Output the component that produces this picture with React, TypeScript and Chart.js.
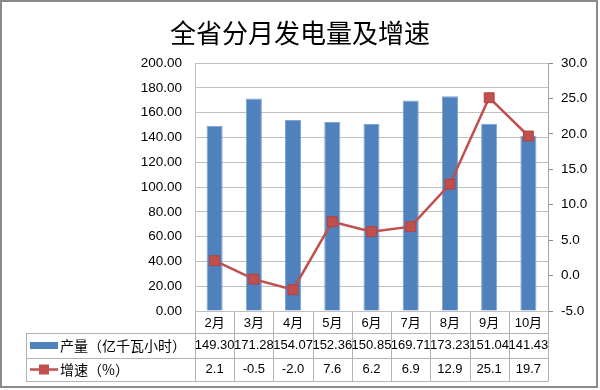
import React, { useEffect, useRef } from "react";
import { Chart, registerables } from "chart.js";

Chart.register(...registerables);

const chartTitle = "全省分月发电量及增速";
const months = ["2月", "3月", "4月", "5月", "6月", "7月", "8月", "9月", "10月"];
const outputValues = [149.3, 171.28, 154.07, 152.36, 150.85, 169.71, 173.23, 151.04, 141.43];
const growthValues = [2.1, -0.5, -2.0, 7.6, 6.2, 6.9, 12.9, 25.1, 19.7];
const outputName = "产量（亿千瓦小时）";
const growthName = "增速（%）";
const leftAxis = { min: 0, max: 200, step: 20 };
const rightAxis = { min: -5, max: 30, step: 5 };

const BLUE = "#4f81bd";
const RED = "#c0504d";
const NUM_FONT = "'Liberation Sans', 'Noto Sans CJK SC', sans-serif";
const CJK_FONT = "'Noto Sans CJK SC', 'Liberation Sans', sans-serif";

const decorPlugin = {
  id: "decor",
  afterDraw(chart: any) {
    const ctx: CanvasRenderingContext2D = chart.ctx;
    const xs = chart.scales.x;
    const { left, right, bottom } = chart.chartArea;
    const n = months.length;
    const cw = (right - left) / n;
    const rows = [bottom, bottom + 22, bottom + 47, bottom + 70];
    const tableLeft = 26;
    ctx.save();

    // title
    ctx.fillStyle = "#000";
    ctx.font = `26px ${CJK_FONT}`;
    ctx.textAlign = "center";
    ctx.textBaseline = "middle";
    ctx.fillText(chartTitle, 300, 33);

    // table grid
    ctx.strokeStyle = "#b3b3b3";
    ctx.lineWidth = 1;
    ctx.beginPath();
    for (let r = 1; r < rows.length; r++) {
      const y = Math.round(rows[r]) + 0.5;
      ctx.moveTo(tableLeft, y);
      ctx.lineTo(right + 0.5, y);
    }
    for (let i = 0; i <= n; i++) {
      const x = Math.round(left + i * cw) + 0.5;
      ctx.moveTo(x, bottom);
      ctx.lineTo(x, Math.round(rows[3]) + 0.5);
    }
    ctx.moveTo(tableLeft + 0.5, Math.round(rows[1]) + 0.5);
    ctx.lineTo(tableLeft + 0.5, Math.round(rows[3]) + 0.5);
    ctx.stroke();

    // table texts
    ctx.fillStyle = "#000";
    ctx.textAlign = "center";
    ctx.textBaseline = "middle";
    ctx.font = `13px ${NUM_FONT}`;
    const m0 = (rows[0] + rows[1]) / 2 + 1;
    const m1 = (rows[1] + rows[2]) / 2;
    const m2 = (rows[2] + rows[3]) / 2;
    for (let i = 0; i < n; i++) {
      const cx = xs.getPixelForValue(i);
      ctx.fillText(months[i], cx, m0);
      ctx.fillText(outputValues[i].toFixed(2), cx, m1);
      ctx.fillText(growthValues[i].toFixed(1), cx, m2);
    }

    // legend keys
    ctx.fillStyle = BLUE;
    ctx.fillRect(30, m1 - 3.5, 28, 7);
    ctx.strokeStyle = RED;
    ctx.lineWidth = 2.5;
    ctx.beginPath();
    ctx.moveTo(30, m2);
    ctx.lineTo(58, m2);
    ctx.stroke();
    ctx.fillStyle = RED;
    ctx.fillRect(39, m2 - 5, 10, 10);

    ctx.fillStyle = "#000";
    ctx.textAlign = "left";
    ctx.font = `14px ${CJK_FONT}`;
    ctx.fillText(outputName, 60, m1);
    ctx.fillText(growthName, 60, m2);

    // outer border
    ctx.strokeStyle = "#8a8a8a";
    ctx.lineWidth = 2;
    ctx.strokeRect(1, 1, 596, 386);
    ctx.restore();
  },
};

export default function App() {
  const ref = useRef<HTMLCanvasElement | null>(null);
  useEffect(() => {
    if (!ref.current) return;
    const chart = new Chart(ref.current, {
      type: "bar",
      data: {
        labels: months,
        datasets: [
          {
            type: "line",
            label: growthName,
            data: growthValues,
            yAxisID: "y1",
            borderColor: RED,
            borderWidth: 2.5,
            pointStyle: "rect",
            pointRadius: 7,
            pointBackgroundColor: RED,
            pointBorderColor: "#b4423f",
            pointBorderWidth: 1,
            order: 0,
          } as any,
          {
            type: "bar",
            label: outputName,
            data: outputValues,
            yAxisID: "y",
            backgroundColor: BLUE,
            borderColor: "#7fa3d3",
            borderWidth: 1,
            barPercentage: 0.41,
            categoryPercentage: 1,
            order: 1,
          },
        ],
      },
      options: {
        animation: false,
        responsive: false,
        layout: { padding: { left: 0, right: 0, top: 63, bottom: 79 } },
        plugins: { legend: { display: false }, tooltip: { enabled: false }, title: { display: false } },
        scales: {
          x: { type: "category", display: false, offset: true, grid: { display: false } },
          y: {
            position: "left",
            min: leftAxis.min,
            max: leftAxis.max,
            ticks: {
              stepSize: leftAxis.step,
              callback: (v: any) => Number(v).toFixed(2),
              color: "#000",
              font: { family: NUM_FONT, size: 13.5 },
              padding: 13,
            },
            grid: { color: "#bfbfbf", drawTicks: false },
            border: { color: "#bfbfbf" },
            afterFit: (s: any) => {
              s.width = 195;
            },
          },
          y1: {
            position: "right",
            min: rightAxis.min,
            max: rightAxis.max,
            ticks: {
              stepSize: rightAxis.step,
              callback: (v: any) => Number(v).toFixed(1),
              color: "#000",
              font: { family: NUM_FONT, size: 13.5 },
              padding: 8,
            },
            grid: { drawOnChartArea: false, drawTicks: true, tickLength: 5, color: "#8a8a8a" },
            border: { color: "#a6a6a6" },
            afterFit: (s: any) => {
              s.width = 52;
            },
          },
        },
      },
      plugins: [decorPlugin],
    });
    return () => chart.destroy();
  }, []);
  return (
    <div style={{ position: "absolute", left: 0, top: 0, width: 600, height: 390, background: "#fff" }}>
      <canvas ref={ref} width={600} height={390} style={{ width: 600, height: 390, display: "block" }} />
    </div>
  );
}
